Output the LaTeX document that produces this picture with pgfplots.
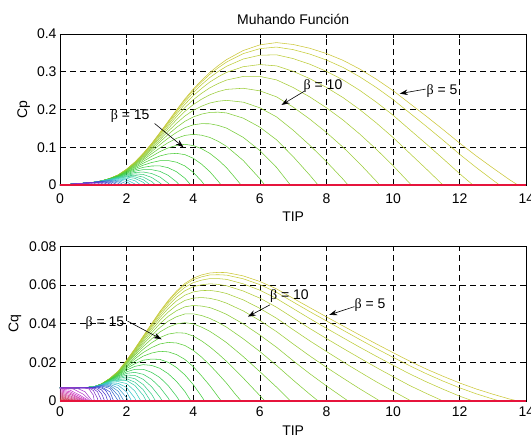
\documentclass[border=0pt]{standalone}
\usepackage{pgfplots}
\pgfplotsset{compat=1.18}
\usepackage{fontspec}
\setmainfont{Liberation Sans}
\newfontfamily\grk{Liberation Serif}
\usetikzlibrary{arrows.meta}
\definecolor{k1}{Hsb}{58,.72,.8}
\definecolor{k2}{Hsb}{62,.72,.8}
\definecolor{k3}{Hsb}{66,.72,.8}
\definecolor{k4}{Hsb}{70,.72,.8}
\definecolor{k5}{Hsb}{75,.72,.8}
\definecolor{k6}{Hsb}{80,.72,.8}
\definecolor{k7}{Hsb}{85,.72,.8}
\definecolor{k8}{Hsb}{90,.72,.8}
\definecolor{k9}{Hsb}{95,.72,.8}
\definecolor{k10}{Hsb}{100,.72,.8}
\definecolor{k11}{Hsb}{106,.72,.8}
\definecolor{k12}{Hsb}{112,.72,.8}
\definecolor{k13}{Hsb}{118,.72,.8}
\definecolor{k14}{Hsb}{124,.72,.8}
\definecolor{k15}{Hsb}{131,.72,.8}
\definecolor{k16}{Hsb}{138,.72,.8}
\definecolor{k17}{Hsb}{145,.72,.8}
\definecolor{k18}{Hsb}{152,.72,.8}
\definecolor{k19}{Hsb}{159,.72,.8}
\definecolor{k20}{Hsb}{166,.72,.8}
\definecolor{k21}{Hsb}{174,.72,.8}
\definecolor{k22}{Hsb}{182,.72,.8}
\definecolor{k23}{Hsb}{190,.72,.8}
\definecolor{k24}{Hsb}{198,.72,.8}
\definecolor{k25}{Hsb}{206,.72,.8}
\definecolor{k26}{Hsb}{214,.72,.8}
\definecolor{k27}{Hsb}{222,.72,.8}
\definecolor{k28}{Hsb}{230,.72,.8}
\definecolor{k29}{Hsb}{238,.72,.8}
\definecolor{k30}{Hsb}{246,.72,.8}
\definecolor{k31}{Hsb}{254,.72,.8}
\definecolor{k32}{Hsb}{262,.72,.8}
\definecolor{k33}{Hsb}{270,.72,.8}
\definecolor{k34}{Hsb}{278,.72,.8}
\definecolor{k35}{Hsb}{286,.72,.8}
\definecolor{k36}{Hsb}{292,.72,.8}
\definecolor{k37}{Hsb}{298,.72,.8}
\definecolor{k38}{Hsb}{304,.72,.8}
\definecolor{k39}{Hsb}{310,.72,.8}
\definecolor{k40}{Hsb}{316,.72,.8}
\definecolor{k41}{Hsb}{322,.72,.8}
\definecolor{k42}{Hsb}{328,.72,.8}
\definecolor{k43}{Hsb}{334,.72,.8}
\definecolor{k44}{Hsb}{340,.72,.8}
\definecolor{k45}{Hsb}{345,.72,.8}
\definecolor{k46}{Hsb}{350,.72,.8}
\definecolor{k47}{Hsb}{354,.72,.8}
\definecolor{k48}{Hsb}{357,.72,.8}
\definecolor{kred}{RGB}{230,20,60}
\tikzset{
  blab/.style={anchor=west, inner sep=0pt, font=\fontsize{14}{16}\selectfont},
  barr/.style={-{Stealth[length=8pt,width=5.5pt]}, line width=0.6pt, black},
}
\pgfplotsset{
  myax/.style={
    scale only axis, width=466.3pt,
    xmin=0, xmax=14,
    xtick={0,2,4,6,8,10,12,14},
    xticklabels={0,2,4,6,8,10,12,14},
    scaled x ticks=false, scaled y ticks=false,
    grid=major,
    major grid style={black, dash pattern=on 6pt off 4pt, line width=0.6pt},
    tick align=inside, major tick length=4pt,
    tick style={black, line width=0.5pt},
    axis line style={black, line width=0.7pt},
    tick label style={font=\fontsize{14}{16}\selectfont},
    label style={font=\fontsize{14}{16}\selectfont},
    title style={font=\fontsize{14}{16}\selectfont},
    every axis title shift=0pt,
    every axis plot/.append style={line width=0.55pt, mark=none},
    clip=false,
  },
}
\begin{document}
\begin{tikzpicture}
\begin{axis}[myax, at={(60pt,250.9pt)}, anchor=south west, height=151.2pt,
  ymin=0, ymax=0.4, ytick={0,0.1,0.2,0.3,0.4}, yticklabels={0,0.1,0.2,0.3,0.4},
  xticklabel style={yshift=-5pt},
  title={Muhando Función}, title style={at={(axis description cs:0.5,1.093)}, anchor=center},
  xlabel={TIP}, xlabel style={at={(axis description cs:0.5,-0.212)}, anchor=center},
  ylabel={Cp}, ylabel style={at={(axis description cs:-0.078,0.5)}, anchor=center}]
\addplot[k1] coordinates {(0,0)(0.5,0.0034)(1,0.0072)(1.25,0.011)(1.5,0.0175)(1.75,0.027)(2,0.042)(2.25,0.061)(2.5,0.084)(2.75,0.11)(3,0.139)(3.25,0.169)(3.5,0.199)(3.75,0.228)(4,0.254)(4.25,0.277)(4.5,0.298)(4.75,0.316)(5,0.332)(5.5,0.356)(6,0.371)(6.5,0.377)(7,0.372)(7.5,0.362)(8,0.348)(8.5,0.33)(9,0.307)(9.5,0.28)(10,0.25)(10.5,0.216)(11,0.182)(11.5,0.147)(12,0.111)(12.5,0.077)(13,0.045)(13.5,0.014)(13.75,0)};
\addplot[k2] coordinates {(0,0)(0.5,0.0034)(1,0.0072)(1.25,0.011)(1.5,0.0175)(1.75,0.027)(2,0.0419)(2.25,0.0607)(2.5,0.0835)(2.75,0.1092)(3,0.1379)(3.25,0.1674)(3.5,0.1969)(3.75,0.2253)(4,0.2506)(4.25,0.2729)(4.5,0.2932)(4.75,0.3104)(5,0.3255)(5.5,0.3478)(6,0.361)(6.5,0.3652)(7,0.3584)(7.5,0.3466)(8,0.3309)(8.5,0.3112)(9,0.2865)(9.5,0.2579)(10,0.2263)(10.5,0.1908)(11,0.1553)(11.5,0.1189)(12,0.0816)(12.5,0.0463)(13,0.013)(13.2,0)};
\addplot[k3] coordinates {(0,0)(0.5,0.0034)(1,0.0072)(1.25,0.011)(1.5,0.0175)(1.75,0.0269)(2,0.0416)(2.25,0.0603)(2.5,0.0827)(2.75,0.1079)(3,0.1359)(3.25,0.1646)(3.5,0.1932)(3.75,0.2205)(4,0.2447)(4.25,0.2658)(4.5,0.2847)(4.75,0.3005)(5,0.3143)(5.5,0.3335)(6,0.3436)(6.5,0.3447)(7,0.3347)(7.5,0.3198)(8,0.3009)(8.5,0.2782)(9,0.2506)(9.5,0.2192)(10,0.1849)(10.5,0.1467)(11,0.1087)(11.5,0.0698)(12,0.0301)(12.4,0)};
\addplot[k4] coordinates {(0,0)(0.5,0.0034)(1,0.0072)(1.25,0.011)(1.5,0.0174)(1.75,0.0267)(2,0.0413)(2.25,0.0596)(2.5,0.0815)(2.75,0.106)(3,0.133)(3.25,0.1607)(3.5,0.1879)(3.75,0.2138)(4,0.2364)(4.25,0.2556)(4.5,0.2727)(4.75,0.2865)(5,0.2982)(5.5,0.3132)(6,0.3189)(6.5,0.3154)(7,0.301)(7.5,0.2816)(8,0.2584)(8.5,0.2314)(9,0.1997)(9.5,0.1642)(10,0.126)(10.5,0.0841)(11,0.0425)(11.5,0)};
\addplot[k5] coordinates {(0,0)(0.5,0.0034)(1,0.0072)(1.25,0.011)(1.5,0.0174)(1.75,0.0266)(2,0.0409)(2.25,0.0587)(2.5,0.08)(2.75,0.1036)(3,0.1294)(3.25,0.1556)(3.5,0.1812)(3.75,0.2052)(4,0.2257)(4.25,0.2428)(4.5,0.2574)(4.75,0.2688)(5,0.2779)(5.5,0.2874)(6,0.2875)(6.5,0.2784)(7,0.2582)(7.5,0.2332)(8,0.2045)(8.5,0.172)(9,0.135)(9.5,0.0945)(10,0.0514)(10.5,0.0047)(10.55,0)};
\addplot[k6] coordinates {(0,0)(0.5,0.0034)(1,0.0072)(1.25,0.011)(1.5,0.0173)(1.75,0.0264)(2,0.0404)(2.25,0.0577)(2.5,0.0782)(2.75,0.1006)(3,0.1251)(3.25,0.1496)(3.5,0.1731)(3.75,0.1949)(4,0.2129)(4.25,0.2272)(4.5,0.239)(4.75,0.2473)(5,0.2532)(5.5,0.2562)(6,0.2494)(6.5,0.2335)(7,0.2064)(7.5,0.1745)(8,0.1391)(8.5,0.1001)(9,0.0567)(9.5,0.01)(9.6,0)};
\addplot[k7] coordinates {(0,0)(0.5,0.0034)(1,0.0072)(1.25,0.011)(1.5,0.0172)(1.75,0.0261)(2,0.0398)(2.25,0.0565)(2.5,0.076)(2.75,0.0972)(3,0.12)(3.25,0.1424)(3.5,0.1636)(3.75,0.1827)(4,0.1977)(4.25,0.2088)(4.5,0.2172)(4.75,0.2219)(5,0.2242)(5.5,0.2194)(6,0.2046)(6.5,0.1805)(7,0.1453)(7.5,0.1054)(8,0.0621)(8.5,0.0154)(8.65,0)};
\addplot[k8] coordinates {(0,0)(0.5,0.0034)(1,0.0072)(1.25,0.011)(1.5,0.0172)(1.75,0.0259)(2,0.0391)(2.25,0.0551)(2.5,0.0735)(2.75,0.0932)(3,0.1141)(3.25,0.1342)(3.5,0.1527)(3.75,0.1687)(4,0.1803)(4.25,0.1878)(4.5,0.1923)(4.75,0.1929)(5,0.1909)(5.5,0.1772)(6,0.1533)(6.5,0.1199)(7,0.0754)(7.5,0.0263)(7.75,0)};
\addplot[k9] coordinates {(0,0)(0.5,0.0034)(1,0.0072)(1.25,0.011)(1.5,0.0171)(1.75,0.0256)(2,0.0383)(2.25,0.0535)(2.5,0.0705)(2.75,0.0884)(3,0.107)(3.25,0.1243)(3.5,0.1395)(3.75,0.1518)(4,0.1594)(4.25,0.1625)(4.5,0.1622)(4.75,0.1579)(5,0.1508)(5.5,0.1264)(6,0.0914)(6.5,0.0469)(6.92,0)};
\addplot[k10] coordinates {(0,0)(0.5,0.0034)(1,0.0072)(1.25,0.011)(1.5,0.017)(1.75,0.0252)(2,0.0374)(2.25,0.0514)(2.5,0.067)(2.75,0.0827)(3,0.0985)(3.25,0.1124)(3.5,0.1237)(3.75,0.1315)(4,0.1342)(4.25,0.132)(4.5,0.1261)(4.75,0.1158)(5,0.1025)(5.5,0.0652)(6,0.0169)(6.15,0)};
\addplot[k11] coordinates {(0,0)(0.5,0.0034)(1,0.0072)(1.25,0.011)(1.5,0.0168)(1.75,0.0247)(2,0.0362)(2.25,0.0491)(2.5,0.0628)(2.75,0.0759)(3,0.0885)(3.25,0.0985)(3.5,0.1051)(3.75,0.1078)(4,0.1047)(4.25,0.0963)(4.5,0.0838)(4.75,0.0666)(5,0.0461)(5.25,0.0202)(5.44,0)};
\addplot[k12] coordinates {(0,0)(0.5,0.0034)(1,0.0072)(1.25,0.0109)(1.5,0.0167)(1.75,0.0242)(2,0.0349)(2.25,0.0464)(2.5,0.058)(2.75,0.0682)(3,0.0771)(3.25,0.0825)(3.5,0.0839)(3.75,0.0806)(4,0.071)(4.25,0.0554)(4.5,0.0354)(4.75,0.0102)(4.84,0)};
\addplot[k13] coordinates {(0,0)(0.5,0.0034)(1,0.0072)(1.25,0.0108)(1.5,0.0165)(1.75,0.0236)(2,0.0335)(2.25,0.0434)(2.5,0.0527)(2.75,0.0597)(3,0.0645)(3.25,0.0649)(3.5,0.0605)(3.75,0.0507)(4,0.0338)(4.25,0.0104)(4.34,0)};
\addplot[k14] coordinates {(0,0)(0.5,0.0034)(1,0.0072)(1.25,0.0108)(1.5,0.0163)(1.75,0.023)(2,0.0319)(2.25,0.0402)(2.5,0.0469)(2.75,0.0505)(3,0.0508)(3.25,0.0459)(3.5,0.0352)(3.75,0.0182)(3.93,0)};
\addplot[k15] coordinates {(0,0)(0.5,0.0034)(1,0.0072)(1.25,0.0108)(1.5,0.0162)(1.75,0.0224)(2,0.0303)(2.25,0.0368)(2.5,0.0409)(2.75,0.0408)(3,0.0364)(3.25,0.0257)(3.5,0.0084)(3.59,0)};
\addplot[k16] coordinates {(0,0)(0.5,0.0034)(1,0.0072)(1.25,0.0107)(1.5,0.016)(1.75,0.0217)(2,0.0285)(2.25,0.0333)(2.5,0.0346)(2.75,0.0307)(3,0.0214)(3.25,0.0049)(3.3,0)};
\addplot[k17] coordinates {(0,0)(0.5,0.0034)(1,0.0072)(1.25,0.0107)(1.5,0.0158)(1.75,0.021)(2,0.0268)(2.25,0.0296)(2.5,0.0281)(2.75,0.0203)(3,0.006)(3.07,0)};
\addplot[k18] coordinates {(0,0)(0.5,0.0034)(1,0.0072)(1.25,0.0107)(1.5,0.0155)(1.75,0.0203)(2,0.0249)(2.25,0.0258)(2.5,0.0213)(2.75,0.0095)(2.87,0)};
\addplot[k19] coordinates {(0,0)(0.5,0.0034)(1,0.0072)(1.25,0.0106)(1.5,0.0153)(1.75,0.0195)(2,0.023)(2.25,0.0219)(2.5,0.0144)(2.72,0)};
\addplot[k20] coordinates {(0,0)(0.5,0.0034)(1,0.0072)(1.25,0.0106)(1.5,0.0151)(1.75,0.0187)(2,0.0211)(2.25,0.0179)(2.5,0.0072)(2.59,0)};
\addplot[k21] coordinates {(0,0)(0.5,0.0034)(1,0.0072)(1.25,0.0105)(1.5,0.0147)(1.75,0.0175)(2,0.018)(2.25,0.0115)(2.43,0)};
\addplot[k22] coordinates {(0,0)(0.5,0.0034)(1,0.0072)(1.25,0.0104)(1.5,0.0143)(1.75,0.0159)(2,0.0139)(2.25,0.0031)(2.28,0)};
\addplot[k23] coordinates {(0,0)(0.5,0.0034)(1,0.0072)(1.25,0.0103)(1.5,0.0138)(1.75,0.0141)(2,0.0094)(2.15,0)};
\addplot[k24] coordinates {(0,0)(0.5,0.0034)(1,0.0071)(1.25,0.0102)(1.5,0.0131)(1.75,0.0117)(2,0.0034)(2.04,0)};
\addplot[k25] coordinates {(0,0)(0.5,0.0034)(1,0.0071)(1.25,0.0101)(1.5,0.0122)(1.75,0.0088)(1.92,0)};
\addplot[k26] coordinates {(0,0)(0.5,0.0034)(1,0.0071)(1.25,0.0099)(1.5,0.0111)(1.75,0.0049)(1.82,0)};
\addplot[k27] coordinates {(0,0)(0.5,0.0034)(1,0.0071)(1.25,0.0096)(1.5,0.0097)(1.75,0)};
\addplot[k28] coordinates {(0,0)(0.5,0.0034)(1,0.0071)(1.25,0.0091)(1.5,0.007)(1.61,0)};
\addplot[k29] coordinates {(0,0)(0.5,0.0034)(1,0.007)(1.125,0.0081)(1.25,0.0084)(1.375,0.0074)(1.5,0.0029)(1.53,0)};
\addplot[k30] coordinates {(0,0)(0.5,0.0034)(1,0.0069)(1.125,0.0077)(1.25,0.0071)(1.375,0.0041)(1.435,0)};
\addplot[k31] coordinates {(0,0)(0.5,0.0034)(0.875,0.0059)(1,0.0067)(1.125,0.0069)(1.25,0.0047)(1.34,0)};
\addplot[k32] coordinates {(0,0)(0.5,0.0034)(0.875,0.0059)(1,0.0064)(1.125,0.0054)(1.25,0)};
\addplot[k33] coordinates {(0,0)(0.5,0.0034)(0.75,0.0051)(0.875,0.0058)(1,0.0055)(1.125,0.0015)(1.14,0)};
\addplot[k34] coordinates {(0,0)(0.5,0.0034)(0.75,0.005)(0.875,0.0054)(1,0.003)(1.03,0)};
\addplot[kred, line width=1.6pt] coordinates {(0,0)(14,0)};
\node[blab] at (axis cs:11.0,0.249) {{\grk β} = 5};
\draw[barr] (axis cs:10.98,0.254) -- (axis cs:10.2,0.242);
\node[blab] at (axis cs:7.31,0.261) {{\grk β} = 10};
\draw[barr] (axis cs:7.33,0.248) -- (axis cs:6.65,0.212);
\node[blab] at (axis cs:1.52,0.182) {{\grk β} = 15};
\draw[barr] (axis cs:2.84,0.163) -- (axis cs:3.71,0.100);
\end{axis}
\begin{axis}[myax, at={(60pt,35pt)}, anchor=south west, height=154.7pt,
  ymin=0, ymax=0.08, ytick={0,0.02,0.04,0.06,0.08}, yticklabels={0,0.02,0.04,0.06,0.08},
  xticklabel style={yshift=-2pt},
  xlabel={TIP}, xlabel style={at={(axis description cs:0.5,-0.195)}, anchor=center},
  ylabel={Cq}, ylabel style={at={(axis description cs:-0.0965,0.5)}, anchor=center}]
\addplot[k1] coordinates {(0,0.0068)(0.5,0.0068)(1,0.0072)(1.25,0.0088)(1.5,0.0117)(1.75,0.0154)(2,0.021)(2.25,0.0271)(2.5,0.0336)(2.75,0.04)(3,0.0463)(3.25,0.052)(3.5,0.0569)(3.75,0.0608)(4,0.0635)(4.25,0.0652)(4.5,0.0662)(4.75,0.0665)(5,0.0664)(5.5,0.0647)(6,0.0618)(6.5,0.058)(7,0.0531)(7.5,0.0483)(8,0.0435)(8.5,0.0388)(9,0.0341)(9.5,0.0295)(10,0.025)(10.5,0.0206)(11,0.0165)(11.5,0.0128)(12,0.0093)(12.5,0.0062)(13,0.0035)(13.5,0.001)(13.75,0)};
\addplot[k2] coordinates {(0,0.0068)(0.5,0.0068)(1,0.0072)(1.25,0.0088)(1.5,0.0117)(1.75,0.0154)(2,0.021)(2.25,0.027)(2.5,0.0334)(2.75,0.0397)(3,0.046)(3.25,0.0515)(3.5,0.0563)(3.75,0.0601)(4,0.0627)(4.25,0.0642)(4.5,0.0652)(4.75,0.0653)(5,0.0651)(5.5,0.0632)(6,0.0602)(6.5,0.0562)(7,0.0512)(7.5,0.0462)(8,0.0414)(8.5,0.0366)(9,0.0318)(9.5,0.0271)(10,0.0226)(10.5,0.0182)(11,0.0141)(11.5,0.0103)(12,0.0068)(12.5,0.0037)(13,0.001)(13.2,0)};
\addplot[k3] coordinates {(0,0.0068)(0.5,0.0068)(1,0.0072)(1.25,0.0088)(1.5,0.0117)(1.75,0.0154)(2,0.0208)(2.25,0.0268)(2.5,0.0331)(2.75,0.0392)(3,0.0453)(3.25,0.0506)(3.5,0.0552)(3.75,0.0588)(4,0.0612)(4.25,0.0625)(4.5,0.0633)(4.75,0.0633)(5,0.0629)(5.5,0.0606)(6,0.0573)(6.5,0.053)(7,0.0478)(7.5,0.0426)(8,0.0376)(8.5,0.0327)(9,0.0278)(9.5,0.0231)(10,0.0185)(10.5,0.014)(11,0.0099)(11.5,0.0061)(12,0.0025)(12.4,0)};
\addplot[k4] coordinates {(0,0.0068)(0.5,0.0068)(1,0.0072)(1.25,0.0088)(1.5,0.0116)(1.75,0.0153)(2,0.0207)(2.25,0.0265)(2.5,0.0326)(2.75,0.0385)(3,0.0443)(3.25,0.0494)(3.5,0.0537)(3.75,0.057)(4,0.0591)(4.25,0.0601)(4.5,0.0606)(4.75,0.0603)(5,0.0596)(5.5,0.0569)(6,0.0532)(6.5,0.0485)(7,0.043)(7.5,0.0375)(8,0.0323)(8.5,0.0272)(9,0.0222)(9.5,0.0173)(10,0.0126)(10.5,0.008)(11,0.0039)(11.5,0)};
\addplot[k5] coordinates {(0,0.0068)(0.5,0.0068)(1,0.0072)(1.25,0.0088)(1.5,0.0116)(1.75,0.0152)(2,0.0205)(2.25,0.0261)(2.5,0.032)(2.75,0.0377)(3,0.0431)(3.25,0.0479)(3.5,0.0518)(3.75,0.0547)(4,0.0564)(4.25,0.0571)(4.5,0.0572)(4.75,0.0566)(5,0.0556)(5.5,0.0523)(6,0.0479)(6.5,0.0428)(7,0.0369)(7.5,0.0311)(8,0.0256)(8.5,0.0202)(9,0.015)(9.5,0.0099)(10,0.0051)(10.5,0.0004)(10.55,0)};
\addplot[k6] coordinates {(0,0.0068)(0.5,0.0068)(1,0.0072)(1.25,0.0088)(1.5,0.0115)(1.75,0.0151)(2,0.0202)(2.25,0.0256)(2.5,0.0313)(2.75,0.0366)(3,0.0417)(3.25,0.046)(3.5,0.0495)(3.75,0.052)(4,0.0532)(4.25,0.0535)(4.5,0.0531)(4.75,0.0521)(5,0.0506)(5.5,0.0466)(6,0.0416)(6.5,0.0359)(7,0.0295)(7.5,0.0233)(8,0.0174)(8.5,0.0118)(9,0.0063)(9.5,0.0011)(9.6,0)};
\addplot[k7] coordinates {(0,0.0068)(0.5,0.0068)(1,0.0072)(1.25,0.0088)(1.5,0.0115)(1.75,0.0149)(2,0.0199)(2.25,0.0251)(2.5,0.0304)(2.75,0.0353)(3,0.04)(3.25,0.0438)(3.5,0.0467)(3.75,0.0487)(4,0.0494)(4.25,0.0491)(4.5,0.0483)(4.75,0.0467)(5,0.0448)(5.5,0.0399)(6,0.0341)(6.5,0.0278)(7,0.0208)(7.5,0.0141)(8,0.0078)(8.5,0.0018)(8.65,0)};
\addplot[k8] coordinates {(0,0.0068)(0.5,0.0068)(1,0.0072)(1.25,0.0088)(1.5,0.0115)(1.75,0.0148)(2,0.0196)(2.25,0.0245)(2.5,0.0294)(2.75,0.0339)(3,0.038)(3.25,0.0413)(3.5,0.0436)(3.75,0.045)(4,0.0451)(4.25,0.0442)(4.5,0.0427)(4.75,0.0406)(5,0.0382)(5.5,0.0322)(6,0.0256)(6.5,0.0184)(7,0.0108)(7.5,0.0035)(7.75,0)};
\addplot[k9] coordinates {(0,0.0068)(0.5,0.0068)(1,0.0072)(1.25,0.0088)(1.5,0.0114)(1.75,0.0146)(2,0.0192)(2.25,0.0238)(2.5,0.0282)(2.75,0.0321)(3,0.0357)(3.25,0.0382)(3.5,0.0399)(3.75,0.0405)(4,0.0399)(4.25,0.0382)(4.5,0.036)(4.75,0.0332)(5,0.0302)(5.5,0.023)(6,0.0152)(6.5,0.0072)(6.92,0)};
\addplot[k10] coordinates {(0,0.0068)(0.5,0.0068)(1,0.0072)(1.25,0.0088)(1.5,0.0113)(1.75,0.0144)(2,0.0187)(2.25,0.0228)(2.5,0.0268)(2.75,0.0301)(3,0.0328)(3.25,0.0346)(3.5,0.0353)(3.75,0.0351)(4,0.0336)(4.25,0.0311)(4.5,0.028)(4.75,0.0244)(5,0.0205)(5.5,0.0119)(6,0.0028)(6.15,0)};
\addplot[k11] coordinates {(0,0.0068)(0.5,0.0068)(1,0.0072)(1.25,0.0088)(1.5,0.0112)(1.75,0.0141)(2,0.0181)(2.25,0.0218)(2.5,0.0251)(2.75,0.0276)(3,0.0295)(3.25,0.0303)(3.5,0.03)(3.75,0.0287)(4,0.0262)(4.25,0.0227)(4.5,0.0186)(4.75,0.014)(5,0.0092)(5.25,0.0038)(5.44,0)};
\addplot[k12] coordinates {(0,0.0068)(0.5,0.0068)(1,0.0072)(1.25,0.0087)(1.5,0.0111)(1.75,0.0138)(2,0.0175)(2.25,0.0206)(2.5,0.0232)(2.75,0.0248)(3,0.0257)(3.25,0.0254)(3.5,0.024)(3.75,0.0215)(4,0.0178)(4.25,0.013)(4.5,0.0079)(4.75,0.0021)(4.84,0)};
\addplot[k13] coordinates {(0,0.0068)(0.5,0.0068)(1,0.0072)(1.25,0.0086)(1.5,0.011)(1.75,0.0135)(2,0.0168)(2.25,0.0193)(2.5,0.0211)(2.75,0.0217)(3,0.0215)(3.25,0.02)(3.5,0.0173)(3.75,0.0135)(4,0.0085)(4.25,0.0024)(4.34,0)};
\addplot[k14] coordinates {(0,0.0068)(0.5,0.0068)(1,0.0072)(1.25,0.0086)(1.5,0.0109)(1.75,0.0131)(2,0.016)(2.25,0.0179)(2.5,0.0188)(2.75,0.0184)(3,0.0169)(3.25,0.0141)(3.5,0.0101)(3.75,0.0049)(3.93,0)};
\addplot[k15] coordinates {(0,0.0068)(0.5,0.0068)(1,0.0072)(1.25,0.0086)(1.5,0.0108)(1.75,0.0128)(2,0.0151)(2.25,0.0164)(2.5,0.0164)(2.75,0.0148)(3,0.0121)(3.25,0.0079)(3.5,0.0024)(3.59,0)};
\addplot[k16] coordinates {(0,0.0068)(0.5,0.0068)(1,0.0072)(1.25,0.0086)(1.5,0.0107)(1.75,0.0124)(2,0.0143)(2.25,0.0148)(2.5,0.0138)(2.75,0.0112)(3,0.0071)(3.25,0.0015)(3.3,0)};
\addplot[k17] coordinates {(0,0.0068)(0.5,0.0068)(1,0.0072)(1.25,0.0086)(1.5,0.0105)(1.75,0.012)(2,0.0134)(2.25,0.0132)(2.5,0.0112)(2.75,0.0074)(3,0.002)(3.07,0)};
\addplot[k18] coordinates {(0,0.0068)(0.5,0.0068)(1,0.0072)(1.25,0.0085)(1.5,0.0103)(1.75,0.0116)(2,0.0125)(2.25,0.0115)(2.5,0.0085)(2.75,0.0035)(2.87,0)};
\addplot[k19] coordinates {(0,0.0068)(0.5,0.0068)(1,0.0072)(1.25,0.0085)(1.5,0.0102)(1.75,0.0111)(2,0.0115)(2.25,0.0097)(2.5,0.0058)(2.72,0)};
\addplot[k20] coordinates {(0,0.0068)(0.5,0.0068)(1,0.0072)(1.25,0.0085)(1.5,0.0101)(1.75,0.0107)(2,0.0106)(2.25,0.008)(2.5,0.0029)(2.59,0)};
\addplot[k21] coordinates {(0,0.0068)(0.5,0.0068)(1,0.0072)(1.25,0.0084)(1.5,0.0098)(1.75,0.01)(2,0.009)(2.25,0.0051)(2.43,0)};
\addplot[k22] coordinates {(0,0.0068)(0.5,0.0068)(1,0.0072)(1.25,0.0083)(1.5,0.0095)(1.75,0.0091)(2,0.007)(2.25,0.0014)(2.28,0)};
\addplot[k23] coordinates {(0,0.0068)(0.5,0.0068)(1,0.0072)(1.25,0.0083)(1.5,0.0092)(1.75,0.0081)(2,0.0047)(2.15,0)};
\addplot[k24] coordinates {(0,0.0068)(0.5,0.0068)(1,0.0071)(1.25,0.0082)(1.5,0.0087)(1.75,0.0067)(2,0.0017)(2.04,0)};
\addplot[k25] coordinates {(0,0.0068)(0.5,0.0068)(1,0.0071)(1.25,0.0081)(1.5,0.0081)(1.75,0.005)(1.92,0)};
\addplot[k26] coordinates {(0,0.0068)(0.5,0.0068)(1,0.0071)(1.25,0.0079)(1.5,0.0074)(1.75,0.0028)(1.82,0)};
\addplot[k27] coordinates {(0,0.0068)(0.5,0.0068)(1,0.0071)(1.25,0.0077)(1.5,0.0065)(1.75,0)};
\addplot[k28] coordinates {(0,0.0068)(0.5,0.0068)(1,0.0071)(1.25,0.0073)(1.5,0.0047)(1.61,0)};
\addplot[k29] coordinates {(0,0.0068)(0.5,0.0068)(1,0.007)(1.125,0.0072)(1.25,0.0067)(1.375,0.0054)(1.5,0.0019)(1.53,0)};
\addplot[k30] coordinates {(0,0.0068)(0.5,0.0068)(1,0.0069)(1.125,0.0068)(1.25,0.0057)(1.375,0.003)(1.435,0)};
\addplot[k31] coordinates {(0,0.0068)(0.5,0.0068)(0.875,0.0068)(1,0.0067)(1.125,0.0061)(1.25,0.0038)(1.34,0)};
\addplot[k32] coordinates {(0,0.0068)(0.5,0.0068)(0.875,0.0067)(1,0.0064)(1.125,0.0048)(1.25,0)};
\addplot[k33] coordinates {(0,0.0068)(0.5,0.0068)(0.75,0.0068)(0.875,0.0066)(1,0.0055)(1.125,0.0013)(1.14,0)};
\addplot[k34] coordinates {(0,0.0068)(0.5,0.0068)(0.75,0.0067)(0.875,0.0062)(1,0.003)(1.03,0)};
\addplot[k35] coordinates {(0,0.0068)(0.5,0.0067)(0.75,0.0048)(0.97,0)};
\addplot[k36] coordinates {(0,0.0066)(0.4,0.0062)(0.7,0.0035)(0.92,0)};
\addplot[k37] coordinates {(0,0.0062)(0.3,0.0056)(0.6,0.003)(0.88,0)};
\addplot[k38] coordinates {(0,0.0058)(0.3,0.0048)(0.6,0.0022)(0.84,0)};
\addplot[k39] coordinates {(0,0.0053)(0.3,0.0041)(0.6,0.0015)(0.8,0)};
\addplot[k40] coordinates {(0,0.0048)(0.3,0.0034)(0.75,0)};
\addplot[k41] coordinates {(0,0.0043)(0.3,0.0027)(0.7,0)};
\addplot[k42] coordinates {(0,0.0038)(0.3,0.0021)(0.65,0)};
\addplot[k43] coordinates {(0,0.0033)(0.3,0.0015)(0.6,0)};
\addplot[k44] coordinates {(0,0.0028)(0.25,0.0012)(0.55,0)};
\addplot[k45] coordinates {(0,0.0023)(0.25,0.0008)(0.5,0)};
\addplot[k46] coordinates {(0,0.0018)(0.2,0.0007)(0.45,0)};
\addplot[k47] coordinates {(0,0.0013)(0.2,0.0004)(0.4,0)};
\addplot[k48] coordinates {(0,0.0008)(0.35,0)};
\addplot[kred, line width=1.6pt] coordinates {(0,0)(14,0)};
\node[blab] at (axis cs:6.30,0.0541) {{\grk β} = 10};
\draw[barr] (axis cs:6.30,0.0497) -- (axis cs:5.64,0.0436);
\node[blab] at (axis cs:8.84,0.0497) {{\grk β} = 5};
\draw[barr] (axis cs:8.84,0.0488) -- (axis cs:8.08,0.0445);
\node[blab] at (axis cs:0.76,0.0401) {{\grk β} = 15};
\draw[barr] (axis cs:2.03,0.0413) -- (axis cs:3.05,0.0319);
\end{axis}
\pgfresetboundingbox
\path[use as bounding box] (0pt,0pt) rectangle (531pt,436pt);
\end{tikzpicture}
\end{document}
